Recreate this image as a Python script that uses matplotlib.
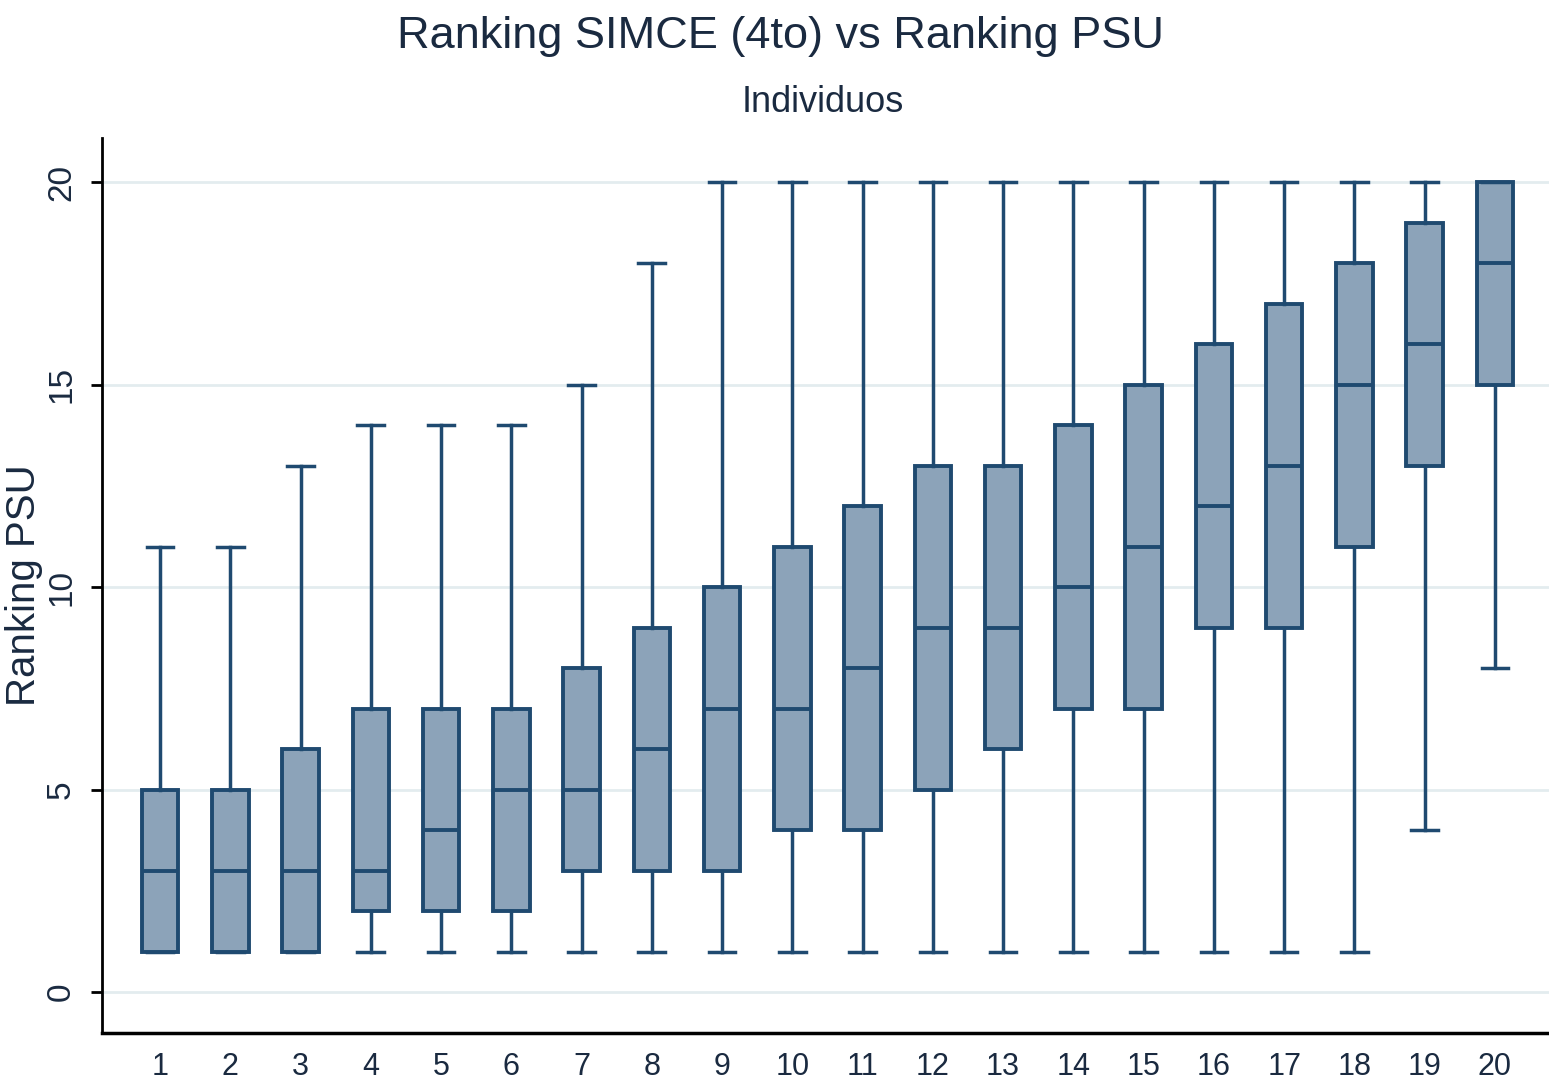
import matplotlib
matplotlib.use("Agg")
import matplotlib.pyplot as plt

plt.rcParams['font.family'] = ['Liberation Sans', 'DejaVu Sans']

# Ranking SIMCE groups
groups = list(range(1, 21))
# whisker low, q1, median, q3, whisker high
wlo = [1, 1, 1, 1, 1, 1, 1, 1, 1, 1, 1, 1, 1, 1, 1, 1, 1, 1, 4, 8]
q1 = [1, 1, 1, 2, 2, 2, 3, 3, 3, 4, 4, 5, 6, 7, 7, 9, 9, 11, 13, 15]
med = [3, 3, 3, 3, 4, 5, 5, 6, 7, 7, 8, 9, 9, 10, 11, 12, 13, 15, 16, 18]
q3 = [5, 5, 6, 7, 7, 7, 8, 9, 10, 11, 12, 13, 13, 14, 15, 16, 17, 18, 19, 20]
whi = [11, 11, 13, 14, 14, 14, 15, 18, 20, 20, 20, 20, 20, 20, 20, 20, 20, 20, 20, 20]

stats = []
for i in range(len(groups)):
    stats.append({'whislo': wlo[i], 'q1': q1[i], 'med': med[i], 'q3': q3[i],
                  'whishi': whi[i], 'fliers': [], 'label': str(groups[i])})

edge = '#1f4a70'
fill = '#8ca3b9'
txt = '#1a2a40'

fig = plt.figure(figsize=(15.49, 10.8), dpi=100)
ax = fig.add_axes([0.0659, 0.0435, 0.9341, 0.8287])

ax.bxp(stats, positions=groups, widths=0.52, patch_artist=True, showfliers=False,
       boxprops=dict(facecolor=fill, edgecolor=edge, linewidth=2.8),
       medianprops=dict(color=edge, linewidth=2.8),
       whiskerprops=dict(color=edge, linewidth=2.5),
       capprops=dict(color=edge, linewidth=2.5),
       capwidths=0.38)

ax.set_xlim(0.175, 20.77)
ax.set_ylim(-1.01, 21.09)
ax.set_yticks([0, 5, 10, 15, 20])
for y in [0, 5, 10, 15, 20]:
    ax.axhline(y, color='#e3ecef', lw=2, zorder=0)

ax.spines['top'].set_visible(False)
ax.spines['right'].set_visible(False)
ax.spines['left'].set_linewidth(2)
ax.spines['bottom'].set_linewidth(2.5)

ax.tick_params(axis='y', length=8, width=2, labelsize=24, labelcolor=txt, pad=10)
ax.tick_params(axis='x', length=0, labelsize=22, labelcolor=txt, pad=14)
for lab in ax.get_yticklabels():
    lab.set_rotation(90)
    lab.set_va('center')

ax.set_ylabel('Ranking PSU', fontsize=29, color=txt)
ax.yaxis.set_label_coords(-0.041, 0.5)

fig.text(0.504, 0.966, 'Ranking SIMCE (4to) vs Ranking PSU', ha='center', va='center',
         fontsize=32.5, color=txt)
fig.text(0.531, 0.905, 'Individuos', ha='center', va='center', fontsize=26, color=txt)

fig.savefig('out.png', dpi=100)
